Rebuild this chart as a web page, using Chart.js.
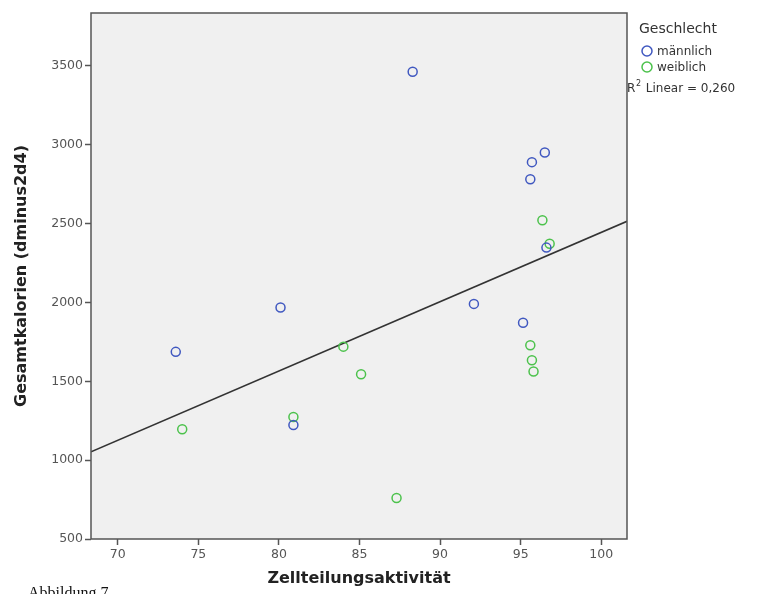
<!DOCTYPE html>
<html>
<head>
<meta charset="utf-8">
<script src="https://cdn.jsdelivr.net/npm/chart.js@4/dist/chart.umd.min.js"></script>
<style>
  html, body { margin: 0; padding: 0; background: #fff; }
  #wrap { position: relative; width: 760px; height: 594px; overflow: hidden; }
  #caption { position: absolute; left: 28px; top: 584px; font: 16px "Liberation Serif", serif; color: #111; }
</style>
</head>
<body>
<div id="wrap">
  <canvas id="chart" width="760" height="594"></canvas>
  <div id="caption">Abbildung 7</div>
</div>
<script>
// Zellteilungsaktivität (x) vs. Gesamtkalorien (y), getrennt nach Geschlecht
const maleX   = [88.3, 96.5, 95.7, 95.6, 96.6, 92.1, 95.15, 80.1, 73.6, 80.9];
const maleY   = [3463, 2951, 2890, 2782, 2348, 1991, 1872, 1968, 1687, 1223];
const femaleX = [74.0, 80.9, 84.0, 85.1, 87.3, 96.35, 96.8, 95.6, 95.7, 95.8];
const femaleY = [1196, 1274, 1720, 1545, 760, 2522, 2372, 1729, 1634, 1562];

const xTicks = [70, 75, 80, 85, 90, 95, 100];
const yTicks = [500, 1000, 1500, 2000, 2500, 3000, 3500];
const xMin = 68.34, xMax = 101.6;
const yMin = 500, yMax = 3836;

const legendTitle = 'Geschlecht';
const groupLabels = ['männlich', 'weiblich'];
const r2Text = '0,260';

const blue = '#4058c0';
const green = '#4cc24c';

// linear fit over all points
function linearFit(xs, ys) {
  const n = xs.length;
  const mx = xs.reduce((a, b) => a + b, 0) / n;
  const my = ys.reduce((a, b) => a + b, 0) / n;
  let sxy = 0, sxx = 0;
  for (let i = 0; i < n; i++) {
    sxy += (xs[i] - mx) * (ys[i] - my);
    sxx += (xs[i] - mx) * (xs[i] - mx);
  }
  const b = sxy / sxx;
  return { a: my - b * mx, b };
}
const fit = linearFit(maleX.concat(femaleX), maleY.concat(femaleY));

const toPoints = (xs, ys) => xs.map((x, i) => ({ x, y: ys[i] }));

// grey plot area and frame
const plotFrame = {
  id: 'plotFrame',
  beforeDatasetsDraw(chart) {
    const { ctx, chartArea: a } = chart;
    ctx.save();
    ctx.fillStyle = '#f0f0f0';
    ctx.fillRect(a.left, a.top, a.right - a.left, a.bottom - a.top);
    ctx.restore();
  },
  afterDatasetsDraw(chart) {
    const { ctx, chartArea: a } = chart;
    ctx.save();
    ctx.strokeStyle = '#555';
    ctx.lineWidth = 1.5;
    ctx.strokeRect(a.left, a.top, a.right - a.left, a.bottom - a.top);
    ctx.restore();
  }
};

// legend block on the right
const sideLegend = {
  id: 'sideLegend',
  afterDraw(chart) {
    const ctx = chart.ctx;
    ctx.save();
    ctx.textBaseline = 'middle';
    ctx.fillStyle = '#333';
    ctx.font = '14px "DejaVu Sans", sans-serif';
    ctx.fillText(legendTitle, 639, 29);
    [blue, green].forEach((c, i) => {
      const y = 51 + i * 16;
      ctx.beginPath();
      ctx.arc(647, y, 5, 0, Math.PI * 2);
      ctx.strokeStyle = c;
      ctx.lineWidth = 1.5;
      ctx.stroke();
      ctx.fillStyle = '#333';
      ctx.font = '12px "DejaVu Sans", sans-serif';
      ctx.fillText(groupLabels[i], 657, y + 1);
    });
    ctx.font = '12px "DejaVu Sans", sans-serif';
    ctx.fillText('R', 627, 89);
    ctx.font = '8px "DejaVu Sans", sans-serif';
    ctx.fillText('2', 636, 84);
    ctx.font = '12px "DejaVu Sans", sans-serif';
    ctx.fillText(' Linear = ' + r2Text, 642, 89);
    ctx.restore();
  }
};

const tickFont = { family: '"DejaVu Sans", sans-serif', size: 12.5 };
const titleFont = { family: '"DejaVu Sans", sans-serif', size: 16, weight: 'bold' };
const plain = v => String(v);

new Chart(document.getElementById('chart'), {
  type: 'scatter',
  data: {
    datasets: [
      {
        label: groupLabels[0],
        data: toPoints(maleX, maleY),
        pointRadius: 4.5,
        pointBorderWidth: 1.5,
        pointBackgroundColor: 'rgba(0,0,0,0)',
        pointBorderColor: blue
      },
      {
        label: groupLabels[1],
        data: toPoints(femaleX, femaleY),
        pointRadius: 4.5,
        pointBorderWidth: 1.5,
        pointBackgroundColor: 'rgba(0,0,0,0)',
        pointBorderColor: green
      },
      {
        type: 'line',
        label: 'Linear',
        data: [{ x: xMin, y: fit.a + fit.b * xMin }, { x: xMax, y: fit.a + fit.b * xMax }],
        borderColor: '#333',
        borderWidth: 1.6,
        pointRadius: 0,
        fill: false
      }
    ]
  },
  options: {
    responsive: false,
    animation: false,
    layout: { padding: { left: 0, top: 13, right: 133, bottom: 0 } },
    plugins: { legend: { display: false }, tooltip: { enabled: false } },
    scales: {
      x: {
        type: 'linear',
        min: xMin,
        max: xMax,
        afterBuildTicks: s => { s.ticks = xTicks.map(v => ({ value: v })); },
        afterFit: s => { s.height = 55; },
        grid: { drawOnChartArea: false, color: '#555', tickLength: 6, tickWidth: 1.5 },
        border: { display: false },
        ticks: { color: '#555', font: tickFont, padding: 2, maxRotation: 0, callback: plain },
        title: { display: true, text: 'Zellteilungsaktivität', color: '#222', font: titleFont, padding: { top: 4, bottom: 6 } }
      },
      y: {
        type: 'linear',
        min: yMin,
        max: yMax,
        afterBuildTicks: s => { s.ticks = yTicks.map(v => ({ value: v })); },
        afterFit: s => { s.width = 91; },
        grid: { drawOnChartArea: false, color: '#555', tickLength: 6, tickWidth: 1.5 },
        border: { display: false },
        ticks: { color: '#555', font: tickFont, padding: 2, callback: plain },
        title: { display: true, text: 'Gesamtkalorien (dminus2d4)', color: '#222', font: titleFont, padding: { top: 12, bottom: 0 } }
      }
    }
  },
  plugins: [plotFrame, sideLegend]
});
</script>
</body>
</html>
